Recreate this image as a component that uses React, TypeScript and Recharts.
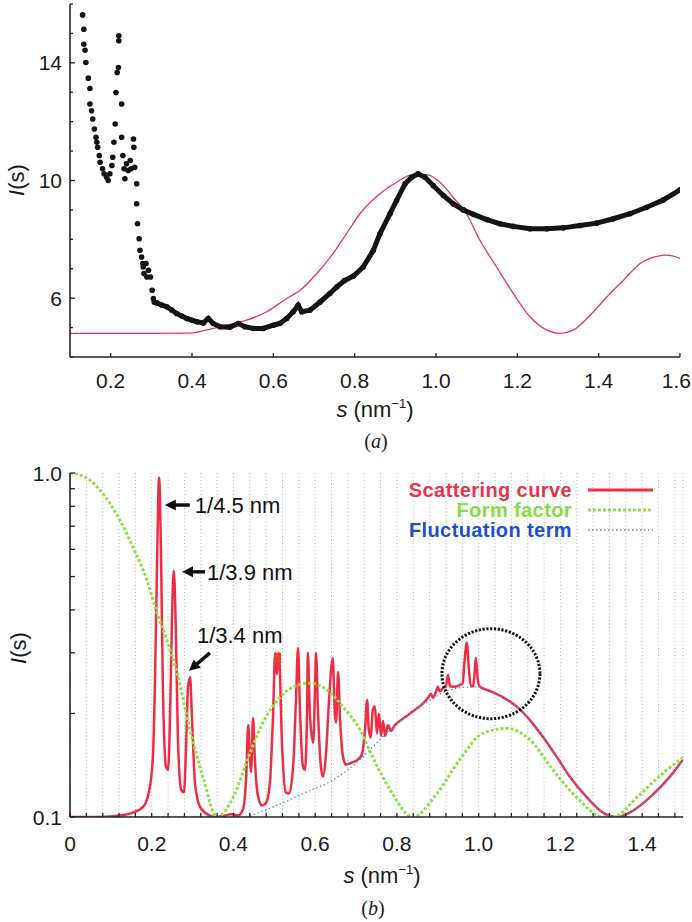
import React from 'react';
import { ComposedChart, Line, Scatter, XAxis, YAxis, CartesianGrid, ReferenceDot } from 'recharts';

const SANS = '"Liberation Sans", Arial, sans-serif';
const SERIF = '"Liberation Serif", "Times New Roman", serif';

// ---------------- Panel (a) ----------------
const A_X_TICKS = [0.2, 0.4, 0.6, 0.8, 1.0, 1.2, 1.4, 1.6];
const A_X_LABELS = ['0.2', '0.4', '0.6', '0.8', '1.0', '1.2', '1.4', '1.6'];
const A_Y_TICKS = [4, 5, 6, 7, 8, 9, 10, 11, 12, 13, 14, 15, 16];
const A_Y_LABELED = [6, 10, 14];
const A_Y_LABELS = ['6', '10', '14'];

// experimental data, sparse low-s region (s, I)
const expSparse: [number, number][] = [
  [0.131, 15.63], [0.134, 15.14], [0.134, 14.63], [0.137, 14.43], [0.139, 14.01], [0.145, 13.48],
  [0.149, 13.13], [0.149, 12.6], [0.153, 12.37], [0.156, 12.09], [0.16, 11.75], [0.164, 11.47],
  [0.166, 11.3], [0.168, 11.13], [0.172, 10.85], [0.174, 10.62], [0.18, 10.4], [0.184, 10.23],
  [0.19, 10.11], [0.194, 10.0], [0.198, 10.23], [0.203, 10.51], [0.205, 10.79], [0.208, 11.3],
  [0.211, 11.92], [0.213, 12.99], [0.216, 13.67], [0.219, 13.84], [0.22, 14.75], [0.22, 14.92],
  [0.227, 12.6], [0.227, 11.47], [0.23, 10.85], [0.233, 10.4], [0.235, 10.06], [0.239, 10.57],
  [0.243, 10.34], [0.248, 10.68], [0.25, 10.4], [0.256, 11.41], [0.257, 11.13], [0.259, 10.45],
  [0.264, 9.89], [0.264, 9.21], [0.266, 8.53], [0.27, 8.02], [0.272, 7.63], [0.276, 7.4],
  [0.279, 7.18], [0.28, 7.06], [0.282, 6.84], [0.287, 7.18], [0.289, 6.72], [0.293, 6.95],
  [0.298, 6.72], [0.302, 6.27], [0.305, 5.99],
];

// experimental data, dense band (s, I)
const expDense: [number, number][] = [
  [0.307, 5.87], [0.313, 5.84], [0.325, 5.77], [0.338, 5.71], [0.35, 5.6], [0.362, 5.48], [0.375, 5.39],
  [0.387, 5.31], [0.4, 5.25], [0.412, 5.2], [0.428, 5.16], [0.44, 5.31], [0.452, 5.14], [0.469, 5.03],
  [0.493, 5.01], [0.514, 5.14], [0.53, 5.03], [0.551, 4.97], [0.575, 4.97], [0.6, 5.08], [0.616, 5.14],
  [0.633, 5.31], [0.649, 5.54], [0.661, 5.76], [0.67, 5.54], [0.69, 5.59], [0.715, 5.87], [0.739, 6.16],
  [0.756, 6.38], [0.775, 6.6], [0.797, 6.75], [0.821, 7.06], [0.846, 7.63], [0.862, 8.19], [0.887, 8.87],
  [0.903, 9.32], [0.924, 9.89], [0.94, 10.11], [0.956, 10.23], [0.973, 10.11], [0.993, 9.83],
  [1.018, 9.49], [1.042, 9.21], [1.067, 9.0], [1.092, 8.85], [1.125, 8.67], [1.157, 8.53], [1.19, 8.44],
  [1.231, 8.36], [1.272, 8.36], [1.313, 8.39], [1.354, 8.47], [1.395, 8.55], [1.436, 8.7], [1.477, 8.87],
  [1.518, 9.09], [1.559, 9.34], [1.6, 9.68],
];

// model curve (s, I)
const modelCurve: [number, number][] = [
  [0.1, 4.8], [0.3, 4.8], [0.395, 4.81], [0.436, 4.92], [0.485, 5.08], [0.534, 5.25], [0.584, 5.54],
  [0.633, 5.99], [0.666, 6.27], [0.707, 6.84], [0.747, 7.52], [0.788, 8.36], [0.813, 8.87], [0.862, 9.55],
  [0.903, 9.94], [0.944, 10.2], [0.977, 10.2], [1.01, 9.94], [1.042, 9.43], [1.075, 8.87], [1.108, 7.97],
  [1.149, 7.06], [1.19, 6.16], [1.231, 5.37], [1.272, 4.92], [1.305, 4.8], [1.338, 4.92], [1.379, 5.42],
  [1.42, 6.04], [1.461, 6.61], [1.502, 7.18], [1.543, 7.42], [1.567, 7.46], [1.6, 7.35],
];

// ---------------- Panel (b) ----------------
const B_X_TICKS = [0, 0.04, 0.08, 0.12, 0.16, 0.2, 0.24, 0.28, 0.32, 0.36, 0.4, 0.44, 0.48, 0.52, 0.56, 0.6,
  0.64, 0.68, 0.72, 0.76, 0.8, 0.84, 0.88, 0.92, 0.96, 1.0, 1.04, 1.08, 1.12, 1.16, 1.2, 1.24, 1.28, 1.32,
  1.36, 1.4, 1.44, 1.48];
const B_X_LABELED = [0, 0.2, 0.4, 0.6, 0.8, 1.0, 1.2, 1.4];
const B_X_LABELS = ['0', '0.2', '0.4', '0.6', '0.8', '1.0', '1.2', '1.4'];
const B_Y_TICKS = [0.1, 0.2, 0.3, 0.4, 0.5, 0.6, 0.7, 0.8, 0.9, 1.0];
const B_Y_LABELED = [0.1, 1.0];
const B_Y_LABELS = ['0.1', '1.0'];

const scatteringCurve: [number, number][] = [
  [0, 0.1], [0.073, 0.1], [0.122, 0.101], [0.154, 0.103], [0.179, 0.107], [0.193, 0.118], [0.203, 0.15],
  [0.208, 0.25], [0.213, 0.55], [0.218, 0.97], [0.223, 0.55], [0.227, 0.25], [0.235, 0.14], [0.24, 0.137],
  [0.245, 0.2], [0.25, 0.4], [0.254, 0.52], [0.259, 0.35], [0.264, 0.17], [0.272, 0.12], [0.279, 0.118],
  [0.284, 0.16], [0.289, 0.24], [0.294, 0.255], [0.298, 0.2], [0.306, 0.125], [0.318, 0.107],
  [0.335, 0.102], [0.355, 0.1], [0.379, 0.101], [0.396, 0.102], [0.411, 0.101], [0.423, 0.105],
  [0.431, 0.13], [0.436, 0.185], [0.44, 0.15], [0.443, 0.135], [0.448, 0.194], [0.452, 0.15],
  [0.46, 0.115], [0.47, 0.108], [0.48, 0.11], [0.489, 0.125], [0.497, 0.2], [0.502, 0.3], [0.506, 0.26],
  [0.511, 0.3], [0.519, 0.16], [0.528, 0.118], [0.536, 0.117], [0.546, 0.14], [0.553, 0.22],
  [0.558, 0.31], [0.563, 0.2], [0.57, 0.14], [0.575, 0.137], [0.58, 0.2], [0.582, 0.3], [0.587, 0.2],
  [0.595, 0.164], [0.6, 0.25], [0.602, 0.3], [0.607, 0.2], [0.614, 0.14], [0.619, 0.131], [0.626, 0.15],
  [0.634, 0.22], [0.643, 0.29], [0.648, 0.2], [0.651, 0.188], [0.656, 0.264], [0.661, 0.19],
  [0.668, 0.15], [0.675, 0.142], [0.69, 0.144], [0.705, 0.147], [0.714, 0.152], [0.722, 0.18],
  [0.727, 0.219], [0.731, 0.18], [0.736, 0.17], [0.741, 0.205], [0.746, 0.21], [0.751, 0.175],
  [0.756, 0.2], [0.761, 0.172], [0.766, 0.19], [0.771, 0.172], [0.778, 0.185], [0.785, 0.178],
  [0.795, 0.185], [0.812, 0.192], [0.832, 0.2], [0.849, 0.207], [0.864, 0.214], [0.876, 0.222],
  [0.883, 0.228], [0.888, 0.222], [0.896, 0.232], [0.9, 0.239], [0.905, 0.232], [0.913, 0.237],
  [0.92, 0.24], [0.925, 0.259], [0.93, 0.24], [0.942, 0.239], [0.954, 0.242], [0.961, 0.245],
  [0.965, 0.28], [0.971, 0.321], [0.976, 0.27], [0.981, 0.24], [0.986, 0.24], [0.991, 0.27],
  [0.993, 0.29], [0.998, 0.25], [1.003, 0.239], [1.03, 0.232], [1.059, 0.223], [1.094, 0.209],
  [1.126, 0.191], [1.157, 0.171], [1.192, 0.149], [1.223, 0.131], [1.265, 0.114], [1.304, 0.103],
  [1.338, 0.1], [1.37, 0.103], [1.419, 0.114], [1.468, 0.131], [1.5, 0.147],
];

const formFactor: [number, number][] = [
  [0, 1.0], [0.024, 0.987], [0.049, 0.952], [0.073, 0.892], [0.098, 0.815], [0.122, 0.73],
  [0.154, 0.609], [0.188, 0.489], [0.213, 0.392], [0.237, 0.327], [0.262, 0.262], [0.294, 0.179],
  [0.325, 0.131], [0.36, 0.1], [0.399, 0.114], [0.44, 0.153], [0.472, 0.188], [0.514, 0.223],
  [0.546, 0.239], [0.587, 0.245], [0.629, 0.234], [0.668, 0.209], [0.71, 0.179], [0.741, 0.149],
  [0.783, 0.12], [0.839, 0.1], [0.898, 0.117], [0.954, 0.147], [1.01, 0.175], [1.069, 0.181],
  [1.125, 0.168], [1.182, 0.137], [1.24, 0.114], [1.304, 0.1], [1.329, 0.1], [1.387, 0.114],
  [1.444, 0.132], [1.5, 0.149],
];

const fluctuationTerm: [number, number][] = [
  [0, 0.1], [0.42, 0.1], [0.433, 0.1005], [0.497, 0.107], [0.57, 0.117], [0.643, 0.128], [0.71, 0.147],
  [0.741, 0.16], [0.783, 0.179], [0.832, 0.2], [0.881, 0.219], [0.93, 0.234], [0.96, 0.238],
  [1.003, 0.239], [1.03, 0.232], [1.059, 0.223], [1.094, 0.209], [1.126, 0.191], [1.157, 0.171],
  [1.192, 0.149], [1.223, 0.131], [1.265, 0.114], [1.304, 0.103], [1.338, 0.1], [1.37, 0.103],
  [1.419, 0.114], [1.468, 0.131], [1.5, 0.147],
];

// annotation anchors (s, I)
const ANN_45: [number, number] = [0.232, 0.807];
const ANN_39: [number, number] = [0.274, 0.516];
const ANN_34: [number, number] = [0.291, 0.266];
const MARKER: [number, number] = [0.508, 0.292];
const CIRCLE: [number, number] = [1.03, 0.261];

const pts = (arr: [number, number][]) => arr.map(([s, I]) => ({ s, I }));

const RED_B = '#ee2d45';
const GREEN_B = '#8ee04c';
const BLUE_B = '#5a86e0';
const AXIS = '#222';

const near = (a: number, b: number) => Math.abs(a - b) < 1e-6;

const makeBottomTick = (labeled: number[], labels: string[], len: number, dy: number, lastEnd: boolean) => (props: any) => {
  const { x, y, payload } = props;
  const i = labeled.findIndex((v) => near(v, payload.value));
  const isLast = lastEnd && i === labeled.length - 1;
  return (
    <g>
      <line x1={x} y1={y} x2={x} y2={y - len} stroke={AXIS} strokeWidth={1.3} />
      {i >= 0 && (
        <text
          x={isLast ? x + 11 : x}
          y={y + dy}
          textAnchor={isLast ? 'end' : 'middle'}
          fontSize={21}
          fontFamily={SANS}
          fill="#1a1a1a"
        >
          {labels[i]}
        </text>
      )}
    </g>
  );
};

const makeLeftTick = (labeled: number[], labels: string[], len: number, majorLen: number) => (props: any) => {
  const { x, y, payload } = props;
  const i = labeled.findIndex((v) => near(v, payload.value));
  const l = i >= 0 ? majorLen : len;
  return (
    <g>
      <line x1={x} y1={y} x2={x + l} y2={y} stroke={AXIS} strokeWidth={1.3} />
      {i >= 0 && (
        <text x={x - 8} y={y + 7.5} textAnchor="end" fontSize={21} fontFamily={SANS} fill="#1a1a1a">
          {labels[i]}
        </text>
      )}
    </g>
  );
};

const TopTick = (props: any) => {
  const { x, y } = props;
  return <line x1={x} y1={y} x2={x} y2={y + 4} stroke={AXIS} strokeWidth={1.3} />;
};
const RightTick = (props: any) => {
  const { x, y } = props;
  return <line x1={x} y1={y} x2={x - 5} y2={y} stroke={AXIS} strokeWidth={1.3} />;
};

const arrowHead = (x1: number, y1: number, x2: number, y2: number) => {
  const dx = x2 - x1;
  const dy = y2 - y1;
  const L = Math.sqrt(dx * dx + dy * dy);
  const ux = dx / L;
  const uy = dy / L;
  const hl = 11;
  const hw = 5.5;
  const bx = x2 - ux * hl;
  const by = y2 - uy * hl;
  const px = -uy;
  const py = ux;
  return (
    <g>
      <line x1={x1} y1={y1} x2={bx + ux} y2={by + uy} stroke="#111" strokeWidth={3.5} />
      <polygon points={`${x2},${y2} ${bx + px * hw},${by + py * hw} ${bx - px * hw},${by - py * hw}`} fill="#111" />
    </g>
  );
};

const Ann45 = (p: any) => (
  <g>
    {arrowHead(p.cx + 25, p.cy, p.cx, p.cy)}
    <text x={p.cx + 30} y={p.cy + 8} fontSize={22} fontFamily={SANS} fill="#111">1/4.5 nm</text>
  </g>
);
const Ann39 = (p: any) => (
  <g>
    {arrowHead(p.cx + 23, p.cy, p.cx, p.cy)}
    <text x={p.cx + 25} y={p.cy + 8} fontSize={22} fontFamily={SANS} fill="#111">1/3.9 nm</text>
  </g>
);
const Ann34 = (p: any) => (
  <g>
    {arrowHead(p.cx + 21, p.cy - 18, p.cx, p.cy)}
    <text x={p.cx + 8} y={p.cy - 28} fontSize={22} fontFamily={SANS} fill="#111">1/3.4 nm</text>
  </g>
);
const MarkerShape = (p: any) => <rect x={p.cx - 3.5} y={p.cy - 4} width={7} height={10} fill="#f04020" />;
const CircleShape = (p: any) => (
  <ellipse cx={p.cx} cy={p.cy} rx={49} ry={45} fill="none" stroke="#151515" strokeWidth={3} strokeDasharray="2.2 1.6" />
);

const DotShape = (p: any) => <circle cx={p.cx} cy={p.cy} r={2.8} fill="#141414" />;

export default function App() {
  return (
    <div style={{ position: 'absolute', left: 0, top: 0, width: 692, height: 922, background: '#fff', overflow: 'hidden' }}>
      {/* Panel (a) */}
      <div style={{ position: 'absolute', left: 0, top: 0 }}>
        <ComposedChart width={692} height={400} margin={{ top: 4, right: 12, left: 0, bottom: 0 }}>
          <XAxis
            dataKey="s"
            type="number"
            domain={[0.1, 1.6]}
            allowDataOverflow
            ticks={A_X_TICKS}
            interval={0}
            tickSize={0}
            tickMargin={0}
            height={43}
            axisLine={{ stroke: AXIS, strokeWidth: 1.6 }}
            tickLine={false}
            tick={makeBottomTick(A_X_TICKS, A_X_LABELS, 4, 31, true)}
          />
          <YAxis
            dataKey="I"
            type="number"
            domain={[4, 16]}
            allowDataOverflow
            ticks={A_Y_TICKS}
            interval={0}
            tickSize={0}
            tickMargin={0}
            width={70}
            axisLine={{ stroke: AXIS, strokeWidth: 1.6 }}
            tickLine={false}
            tick={makeLeftTick(A_Y_LABELED, A_Y_LABELS, 3, 5)}
          />
          <Line
            data={pts(modelCurve)}
            dataKey="I"
            type="monotone"
            stroke="#e2375f"
            strokeWidth={1.3}
            dot={false}
            isAnimationActive={false}
            legendType="none"
          />
          <Scatter
            data={pts(expDense)}
            line={{ stroke: '#141414', strokeWidth: 5 }}
            lineType="joint"
            shape={DotShape}
            isAnimationActive={false}
            legendType="none"
          />
          <Scatter data={pts(expSparse)} shape={DotShape} isAnimationActive={false} legendType="none" />
        </ComposedChart>
      </div>

      {/* Panel (b) */}
      <div style={{ position: 'absolute', left: 0, top: 460 }}>
        <ComposedChart width={692} height={462} margin={{ top: 13, right: 9, left: 0, bottom: 0 }}>
          <CartesianGrid horizontal={false} vertical stroke="#b5b5b5" strokeDasharray="1 2.5" />
          <XAxis
            dataKey="s"
            type="number"
            domain={[0, 1.5]}
            allowDataOverflow
            ticks={B_X_TICKS}
            interval={0}
            tickSize={0}
            tickMargin={0}
            height={105}
            axisLine={{ stroke: AXIS, strokeWidth: 1.6 }}
            tickLine={false}
            tick={makeBottomTick(B_X_LABELED, B_X_LABELS, 4, 34, false)}
          />
          <XAxis
            xAxisId="top"
            orientation="top"
            type="number"
            domain={[0, 1.5]}
            allowDataOverflow
            ticks={B_X_TICKS}
            interval={0}
            tickSize={0}
            tickMargin={0}
            height={0}
            axisLine={{ stroke: AXIS, strokeWidth: 1.6 }}
            tickLine={false}
            tick={TopTick}
          />
          <YAxis
            dataKey="I"
            type="number"
            scale="log"
            domain={[0.1, 1]}
            allowDataOverflow
            ticks={B_Y_TICKS}
            interval={0}
            tickSize={0}
            tickMargin={0}
            width={70}
            axisLine={{ stroke: AXIS, strokeWidth: 1.6 }}
            tickLine={false}
            tick={makeLeftTick(B_Y_LABELED, B_Y_LABELS, 5, 5)}
          />
          <YAxis
            yAxisId="right"
            orientation="right"
            type="number"
            scale="log"
            domain={[0.1, 1]}
            allowDataOverflow
            ticks={B_Y_TICKS}
            interval={0}
            tickSize={0}
            tickMargin={0}
            width={0}
            axisLine={{ stroke: AXIS, strokeWidth: 1.6 }}
            tickLine={false}
            tick={RightTick}
          />
          <Line
            data={pts(scatteringCurve)}
            dataKey="I"
            type="monotone"
            stroke={RED_B}
            strokeWidth={2.5}
            dot={false}
            isAnimationActive={false}
            legendType="none"
          />
          <Line
            data={pts(fluctuationTerm)}
            dataKey="I"
            type="monotone"
            stroke={BLUE_B}
            strokeWidth={1.3}
            strokeDasharray="1.5 2.5"
            dot={false}
            isAnimationActive={false}
            legendType="none"
          />
          <Line
            data={pts(formFactor)}
            dataKey="I"
            type="monotone"
            stroke={GREEN_B}
            strokeWidth={3}
            strokeDasharray="3 2"
            dot={false}
            isAnimationActive={false}
            legendType="none"
          />
          <ReferenceDot x={ANN_45[0]} y={ANN_45[1]} r={1} shape={Ann45} />
          <ReferenceDot x={ANN_39[0]} y={ANN_39[1]} r={1} shape={Ann39} />
          <ReferenceDot x={ANN_34[0]} y={ANN_34[1]} r={1} shape={Ann34} />
          <ReferenceDot x={MARKER[0]} y={MARKER[1]} r={1} shape={MarkerShape} />
          <ReferenceDot x={CIRCLE[0]} y={CIRCLE[1]} r={1} shape={CircleShape} />
        </ComposedChart>
      </div>

      {/* Legend of panel (b) */}
      <div
        style={{
          position: 'absolute',
          right: 120,
          top: 480,
          textAlign: 'right',
          fontFamily: SANS,
          fontWeight: 'bold',
          fontSize: 20,
          lineHeight: '20px',
          whiteSpace: 'nowrap',
        }}
      >
        <div style={{ color: '#e8344f', letterSpacing: 0.4 }}>Scattering curve</div>
        <div style={{ color: '#86dc46', letterSpacing: 0.4 }}>Form factor</div>
        <div style={{ color: '#1c4fd2', letterSpacing: 0.4 }}>Fluctuation term</div>
      </div>
      <svg style={{ position: 'absolute', left: 0, top: 0 }} width={692} height={922}>
        <line x1={588} y1={490} x2={653} y2={490} stroke={RED_B} strokeWidth={3} />
        <line x1={588} y1={510} x2={653} y2={510} stroke={GREEN_B} strokeWidth={3} strokeDasharray="3 2" />
        <line x1={588} y1={530} x2={653} y2={530} stroke={BLUE_B} strokeWidth={1.3} strokeDasharray="1.5 2.5" />

        {/* axis titles */}
        <text transform="rotate(-90 16 180)" x={16} y={188} textAnchor="middle" fontSize={22} fontFamily={SANS} fill="#1a1a1a">
          <tspan fontStyle="italic">I</tspan>(s)
        </text>
        <text x={375} y={417} textAnchor="middle" fontSize={22} fontFamily={SANS} fill="#1a1a1a">
          <tspan fontStyle="italic">s</tspan> (nm<tspan dy={-9} fontSize={13}>−1</tspan><tspan dy={9}>)</tspan>
        </text>
        <text x={376} y={448} textAnchor="middle" fontSize={20} fontFamily={SERIF} fill="#1a1a1a">
          (<tspan fontStyle="italic">a</tspan>)
        </text>
        <text transform="rotate(-90 18 648)" x={18} y={656} textAnchor="middle" fontSize={22} fontFamily={SANS} fill="#1a1a1a">
          <tspan fontStyle="italic">I</tspan>(s)
        </text>
        <text x={382} y={883} textAnchor="middle" fontSize={22} fontFamily={SANS} fill="#1a1a1a">
          <tspan fontStyle="italic">s</tspan> (nm<tspan dy={-9} fontSize={13}>−1</tspan><tspan dy={9}>)</tspan>
        </text>
        <text x={373} y={915} textAnchor="middle" fontSize={20} fontFamily={SERIF} fill="#1a1a1a">
          (<tspan fontStyle="italic">b</tspan>)
        </text>
      </svg>
    </div>
  );
}
